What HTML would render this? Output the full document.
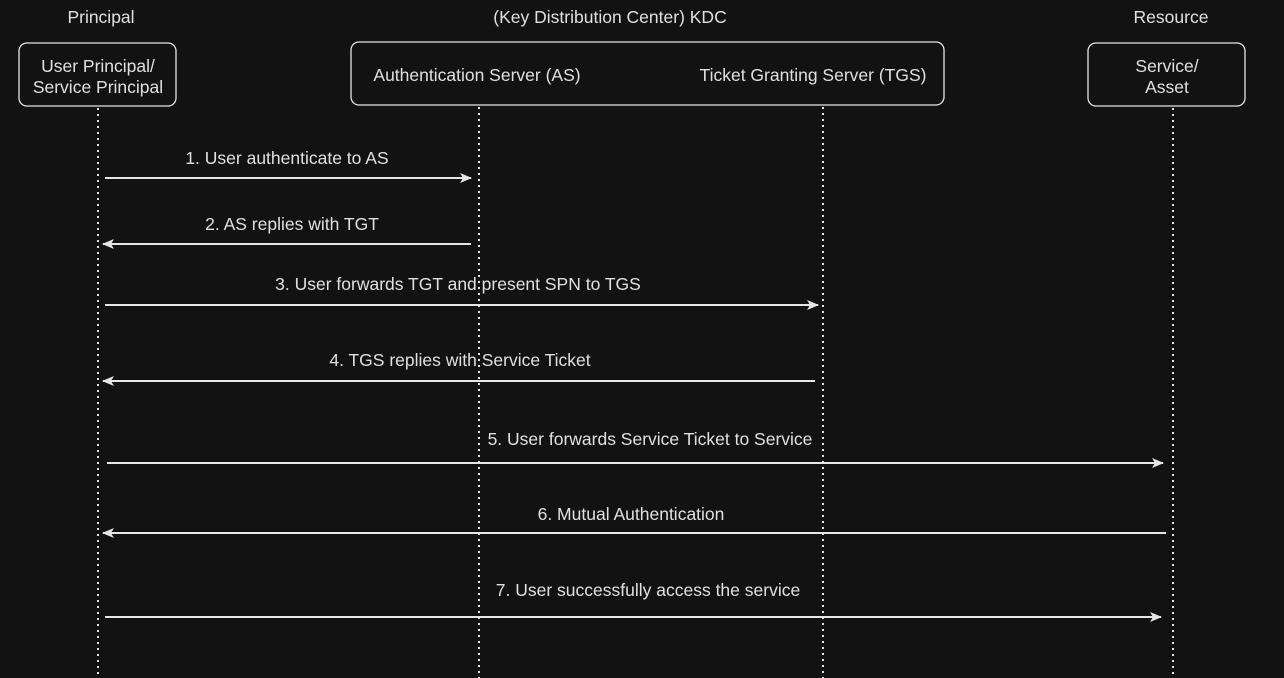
<!DOCTYPE html>
<html><head><meta charset="utf-8"><style>
html,body{margin:0;padding:0;background:#121212;}
svg{display:block;}
text{font-family:"Liberation Sans",sans-serif;font-size:17.5px;fill:#e0e0e0;text-anchor:middle;}
</style></head><body>
<svg width="1284" height="678" viewBox="0 0 1284 678" xmlns="http://www.w3.org/2000/svg">
<defs>
<marker id="a" markerWidth="12" markerHeight="12" refX="11" refY="6" orient="auto" markerUnits="userSpaceOnUse">
<path d="M0,1 L12,6 L0,11 L3,6 Z" fill="#e6e6e6"/>
</marker>
</defs>
<rect width="1284" height="678" fill="#121212"/>
<text x="101" y="23">Principal</text>
<text x="610" y="23">(Key Distribution Center) KDC</text>
<text x="1171" y="23">Resource</text>
<g fill="none" stroke="#e6e6e6" stroke-width="1.3">
<rect x="19" y="43" width="157" height="63" rx="8"/>
<rect x="351" y="42" width="593" height="63" rx="8"/>
<rect x="1088" y="43" width="157" height="63" rx="8"/>
</g>
<text x="98" y="72">User Principal/</text>
<text x="98" y="93">Service Principal</text>
<text x="477" y="81">Authentication Server (AS)</text>
<text x="813" y="81">Ticket Granting Server (TGS)</text>
<text x="1167" y="72">Service/</text>
<text x="1167" y="93">Asset</text>
<g stroke="#e6e6e6" stroke-width="2" stroke-dasharray="2,4">
<line x1="98" y1="108" x2="98" y2="678"/>
<line x1="479" y1="107" x2="479" y2="678"/>
<line x1="823" y1="107" x2="823" y2="678"/>
<line x1="1173" y1="108" x2="1173" y2="678"/>
</g>
<g stroke="#e6e6e6" stroke-width="2" marker-end="url(#a)">
<line x1="105" y1="178" x2="471" y2="178"/>
<line x1="471" y1="244" x2="103" y2="244"/>
<line x1="105" y1="305" x2="818" y2="305"/>
<line x1="815" y1="381" x2="103" y2="381"/>
<line x1="107" y1="463" x2="1163" y2="463"/>
<line x1="1166" y1="533" x2="103" y2="533"/>
<line x1="105" y1="617" x2="1161" y2="617"/>
</g>
<text x="287" y="164">1. User authenticate to AS</text>
<text x="292" y="230">2. AS replies with TGT</text>
<text x="458" y="290">3. User forwards TGT and present SPN to TGS</text>
<text x="460" y="366">4. TGS replies with Service Ticket</text>
<text x="650" y="445">5. User forwards Service Ticket to Service</text>
<text x="631" y="520">6. Mutual Authentication</text>
<text x="648" y="596">7. User successfully access the service</text>
</svg>
</body></html>
